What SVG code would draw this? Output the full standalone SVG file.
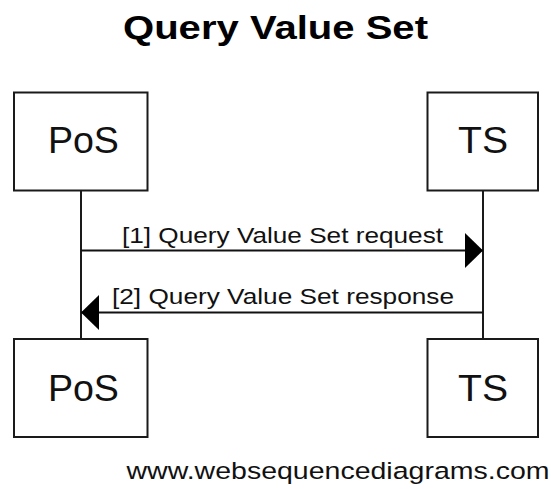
<svg xmlns="http://www.w3.org/2000/svg" width="551" height="489" viewBox="0 0 551 489">
<style>
.box{fill:#fff;stroke:#1a1a1a;stroke-width:2}
.life{stroke:#1a1a1a;stroke-width:2;fill:none}
.msg{stroke:#111;stroke-width:2;fill:none;marker-end:url(#ah)}
.pt{font-family:"Liberation Sans",Arial,sans-serif;font-size:37px;fill:#111;text-anchor:middle}
.lbl{font-family:"Liberation Sans",Arial,sans-serif;font-size:22.5px;fill:#111}
.title{font-family:"Liberation Sans",Arial,sans-serif;font-size:33px;font-weight:bold;fill:#000}
.foot{font-family:"Liberation Sans",Arial,sans-serif;font-size:24.5px;fill:#111}
</style>
<defs>
<marker id="ah" viewBox="0 0 18 35" refX="18" refY="17.5" markerWidth="18" markerHeight="35" markerUnits="userSpaceOnUse" orient="auto">
<path d="M0,0 L18,17.5 L0,35 z" fill="#000"/>
</marker>
</defs>
<rect width="551" height="489" fill="#fff"/>
<text class="title" x="123" y="39" textLength="305" lengthAdjust="spacingAndGlyphs">Query Value Set</text>
<g id="lifelines">
<line class="life" x1="81" y1="191" x2="81" y2="339"/>
<line class="life" x1="483" y1="191" x2="483" y2="339"/>
</g>
<g id="PoS-top">
<rect class="box" x="14" y="92.5" width="133.5" height="98"/>
<text class="pt" x="83.4" y="153" textLength="71" lengthAdjust="spacingAndGlyphs">PoS</text>
</g>
<g id="TS-top">
<rect class="box" x="427.5" y="92.5" width="110.5" height="98"/>
<text class="pt" x="483" y="153" textLength="50" lengthAdjust="spacingAndGlyphs">TS</text>
</g>
<g id="connectors">
<line class="msg" x1="81" y1="250.5" x2="483" y2="250.5"/>
<text class="lbl" x="122" y="243" textLength="321" lengthAdjust="spacingAndGlyphs">[1] Query Value Set request</text>
<line class="msg" x1="483" y1="312.5" x2="81" y2="312.5"/>
<text class="lbl" x="112" y="304" textLength="342" lengthAdjust="spacingAndGlyphs">[2] Query Value Set response</text>
</g>
<g id="PoS-bottom">
<rect class="box" x="14" y="339" width="133.5" height="98"/>
<text class="pt" x="83.4" y="401" textLength="71" lengthAdjust="spacingAndGlyphs">PoS</text>
</g>
<g id="TS-bottom">
<rect class="box" x="427.5" y="339" width="110.5" height="98"/>
<text class="pt" x="483" y="401" textLength="50" lengthAdjust="spacingAndGlyphs">TS</text>
</g>
<text class="foot" x="126.5" y="479" textLength="423" lengthAdjust="spacingAndGlyphs">www.websequencediagrams.com</text>
</svg>
